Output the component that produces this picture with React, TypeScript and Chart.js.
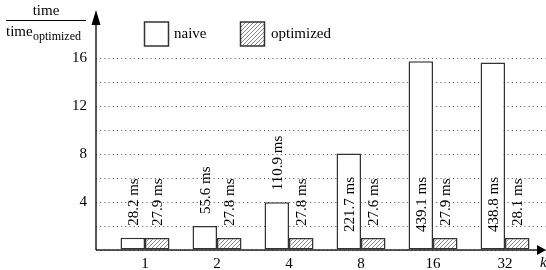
import React, { useEffect, useRef } from 'react';
import { Chart, registerables } from 'chart.js';

Chart.register(...registerables);

// ---- data ----
const categories = ['1', '2', '4', '8', '16', '32'];
const naiveMs = [28.2, 55.6, 110.9, 221.7, 439.1, 438.8];
const optimizedMs = [27.9, 27.8, 27.8, 27.6, 27.9, 28.1];
const yTickLabels = [4, 8, 12, 16];
const seriesNames = ['naive', 'optimized'];
const xAxisName = 'k';

const FONT = "'Liberation Serif', 'Times New Roman', serif";
const STROKE = '#333';

function makeHatch(): CanvasPattern {
  const s = 4;
  const c = document.createElement('canvas');
  c.width = s;
  c.height = s;
  const g = c.getContext('2d')!;
  g.fillStyle = '#fff';
  g.fillRect(0, 0, s, s);
  g.strokeStyle = '#666';
  g.lineWidth = 0.8;
  g.beginPath();
  g.moveTo(-1, s + 1);
  g.lineTo(s + 1, -1);
  g.moveTo(-1, 1);
  g.lineTo(1, -1);
  g.moveTo(s - 1, s + 1);
  g.lineTo(s + 1, s - 1);
  g.stroke();
  return g.createPattern(c, 'repeat')!;
}

export default function App() {
  const ref = useRef<HTMLCanvasElement | null>(null);

  useEffect(() => {
    document.body.style.margin = '0';
    const canvas = ref.current!;
    const hatch = makeHatch();
    const naiveRatio = naiveMs.map((v, i) => v / optimizedMs[i]);
    const optRatio = optimizedMs.map((v, i) => v / optimizedMs[i]);

    const overlay = {
      id: 'overlay',
      afterDatasetsDraw(chart: any) {
        const ctx: CanvasRenderingContext2D = chart.ctx;
        const { left, right } = chart.chartArea;
        const ys = chart.scales.y;
        const y0 = ys.getPixelForValue(0);
        ctx.save();

        // value labels (rotated)
        ctx.font = `15px ${FONT}`;
        ctx.fillStyle = '#000';
        ctx.textAlign = 'left';
        ctx.textBaseline = 'middle';
        [naiveMs, optimizedMs].forEach((arr, di) => {
          const meta = chart.getDatasetMeta(di);
          meta.data.forEach((bar: any, i: number) => {
            const h = bar.base - bar.y;
            const yStart = h > 60 ? y0 - 18 : bar.y - 12;
            ctx.save();
            ctx.translate(bar.x + 1, yStart);
            ctx.rotate(-Math.PI / 2);
            ctx.fillText(`${arr[i].toFixed(1)} ms`, 0, 0);
            ctx.restore();
          });
        });

        // axes with arrows
        ctx.strokeStyle = '#222';
        ctx.fillStyle = '#000';
        ctx.lineWidth = 1.5;
        ctx.beginPath();
        ctx.moveTo(left, y0);
        ctx.lineTo(right - 6, y0);
        ctx.moveTo(left, y0);
        ctx.lineTo(left, 20);
        ctx.stroke();
        // x arrow head
        ctx.beginPath();
        ctx.moveTo(right, y0);
        ctx.lineTo(right - 9, y0 - 5);
        ctx.lineTo(right - 9, y0 + 5);
        ctx.closePath();
        ctx.fill();
        // y arrow head
        ctx.beginPath();
        ctx.moveTo(left, 10);
        ctx.lineTo(left - 4.5, 25);
        ctx.lineTo(left + 4.5, 25);
        ctx.closePath();
        ctx.fill();

        // x axis name
        ctx.font = `italic 15px ${FONT}`;
        ctx.textAlign = 'left';
        ctx.textBaseline = 'middle';
        ctx.fillText(xAxisName, 540, 263);

        // y axis title: time / time_optimized
        ctx.font = `15px ${FONT}`;
        ctx.textAlign = 'center';
        ctx.textBaseline = 'alphabetic';
        ctx.fillText('time', 46, 15);
        ctx.lineWidth = 1;
        ctx.strokeStyle = '#000';
        ctx.beginPath();
        ctx.moveTo(6, 20.5);
        ctx.lineTo(86, 20.5);
        ctx.stroke();
        ctx.textAlign = 'left';
        ctx.fillText('time', 6, 36);
        ctx.font = `12px ${FONT}`;
        ctx.fillText('optimized', 33, 40);

        // legend
        ctx.lineWidth = 1.5;
        ctx.strokeStyle = STROKE;
        ctx.fillStyle = '#fff';
        ctx.fillRect(144.5, 22, 24, 24);
        ctx.strokeRect(144.5, 22, 24, 24);
        ctx.fillStyle = hatch;
        ctx.fillRect(240.5, 22, 24, 24);
        ctx.strokeRect(240.5, 22, 24, 24);
        ctx.fillStyle = '#000';
        ctx.font = `15px ${FONT}`;
        ctx.textBaseline = 'middle';
        ctx.fillText(seriesNames[0], 174, 34);
        ctx.fillText(seriesNames[1], 271, 34);

        ctx.restore();
      },
    };

    const chart = new Chart(canvas, {
      type: 'bar',
      data: {
        datasets: [
          {
            label: seriesNames[0],
            data: naiveRatio.map((v, i) => ({ x: i, y: v })),
            backgroundColor: '#fff',
            borderColor: STROKE,
            borderWidth: 1.5,
            borderSkipped: false,
            categoryPercentage: 0.68,
            barPercentage: 1,
          },
          {
            label: seriesNames[1],
            data: optRatio.map((v, i) => ({ x: i, y: v })),
            backgroundColor: hatch,
            borderColor: STROKE,
            borderWidth: 1.5,
            borderSkipped: false,
            categoryPercentage: 0.68,
            barPercentage: 1,
          },
        ],
      } as any,
      options: {
        animation: false,
        responsive: false,
        devicePixelRatio: 1,
        layout: { padding: { top: 58, left: 0, right: 0, bottom: 0 } },
        plugins: { legend: { display: false }, tooltip: { enabled: false } },
        scales: {
          x: {
            type: 'linear',
            offset: false,
            min: -0.6806,
            max: 5.569,
            grid: { display: false, drawTicks: false, offset: false },
            border: { display: false },
            afterBuildTicks: (s: any) => {
              s.ticks = categories.map((_, i) => ({ value: i }));
            },
            afterFit: (s: any) => {
              s.height = 20;
            },
            ticks: {
              padding: 5,
              color: '#000',
              font: { family: FONT, size: 15 },
              maxRotation: 0,
              autoSkip: false,
              callback: (_v: any, i: number) => categories[i],
            },
          },
          y: {
            min: 0,
            max: 16,
            grid: { color: '#555', lineWidth: 1, drawTicks: false },
            border: { display: false, dash: [1, 3.2] },
            afterFit: (s: any) => {
              s.width = 96;
            },
            ticks: {
              stepSize: 2,
              padding: 9,
              color: '#000',
              font: { family: FONT, size: 15 },
              callback: (v: any) => (yTickLabels.includes(Number(v)) ? String(v) : ''),
            },
          },
        },
      } as any,
      plugins: [overlay],
    });
    return () => chart.destroy();
  }, []);

  return (
    <div style={{ position: 'absolute', left: 0, top: 0, width: 546, height: 270 }}>
      <canvas ref={ref} width={546} height={270} style={{ display: 'block' }} />
    </div>
  );
}
